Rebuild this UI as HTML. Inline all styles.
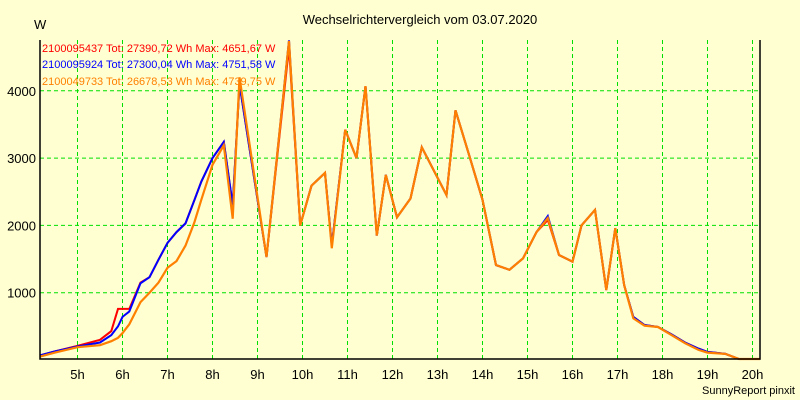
<!DOCTYPE html>
<html><head><meta charset="utf-8"><style>
body{margin:0;background:#ffffd2;}
svg{display:block;font-family:"Liberation Sans",sans-serif;}
</style></head><body>
<svg width="800" height="400">
<rect width="800" height="400" fill="#ffffd2"/>
<text x="420" y="24" font-size="13" text-anchor="middle">Wechselrichtervergleich vom 03.07.2020</text>
<text x="34" y="29" font-size="13">W</text>
<g id="grid"></g>
<g id="series"></g>
<path d="M40,40 V359 H760 V40" fill="none" stroke="#000" stroke-width="1.5"/>
<g font-size="11">
<text x="42" y="52" fill="#ff0000">2100095437 Tot: 27390,72 Wh Max: 4651,67 W</text>
<text x="42" y="68" fill="#0000ff">2100095924 Tot: 27300,04 Wh Max: 4751,58 W</text>
<text x="42" y="85" fill="#ff8000">2100049733 Tot: 26678,53 Wh Max: 4739,75 W</text>
</g>
<text x="795" y="394" font-size="11" text-anchor="end">SunnyReport pinxit</text>
</svg>
<script>
const xTicks=[5,6,7,8,9,10,11,12,13,14,15,16,17,18,19,20];
const yTicks=[1000,2000,3000,4000];
const times=[4.17,4.5,5,5.5,5.75,5.9,6,6.15,6.4,6.6,6.8,7,7.2,7.4,7.6,7.75,8,8.25,8.45,8.6,9.2,9.7,9.95,10.2,10.5,10.65,10.95,11.2,11.4,11.65,11.85,12.1,12.4,12.65,13.2,13.4,13.7,14,14.3,14.6,14.9,15.2,15.45,15.7,16,16.2,16.5,16.75,16.95,17.15,17.35,17.6,17.9,18.2,18.5,18.8,19,19.4,19.7,20.17];
const redVals=[70,130,210,300,430,760,760,760,1150,1230,1490,1740,1900,2030,2380,2650,3000,3240,2300,4100,1530,4650,2000,2590,2780,1700,3420,3000,4070,1850,2750,2120,2400,3160,2450,3710,3050,2380,1410,1340,1510,1900,2080,1560,1460,2000,2230,1040,1960,1110,640,520,490,380,260,170,120,90,15,15];
const blueVals=[70,130,200,260,370,500,640,720,1140,1230,1490,1740,1900,2030,2380,2650,3000,3240,2300,4100,1530,4750,2000,2590,2780,1700,3420,3000,4070,1850,2750,2120,2400,3160,2450,3710,3050,2380,1410,1340,1510,1900,2140,1560,1460,2000,2230,1040,1960,1110,640,520,490,380,260,170,120,90,15,15];
const orangeVals=[50,110,190,220,280,330,400,530,860,1000,1150,1370,1470,1700,2050,2380,2900,3190,2100,4200,1530,4740,2000,2590,2780,1660,3420,3000,4070,1850,2750,2120,2400,3160,2450,3710,3050,2380,1410,1340,1510,1900,2110,1560,1460,2000,2230,1040,1960,1110,620,510,490,370,250,150,110,90,15,15];
const NS="http://www.w3.org/2000/svg";
function xs(h){return 32.5+(h-4)*45;}
function ys(w){return 360-w*0.0673;}
const grid=document.getElementById('grid');
xTicks.forEach(h=>{
  const l=document.createElementNS(NS,'line');
  
  
  l.setAttribute('x1',xs(h));l.setAttribute('x2',xs(h));l.setAttribute('y1',40);l.setAttribute('y2',359);
  l.setAttribute('stroke','#00e000');l.setAttribute('stroke-dasharray','4,3');
  grid.appendChild(l);
  const t=document.createElementNS(NS,'text');
  
  
  t.setAttribute('x',xs(h));t.setAttribute('y',379);t.setAttribute('font-size','13');t.setAttribute('text-anchor','middle');
  t.textContent=h+'h';grid.appendChild(t);
});
yTicks.forEach(v=>{
  const l=document.createElementNS(NS,'line');
  
  
  l.setAttribute('x1',40);l.setAttribute('x2',760);l.setAttribute('y1',ys(v));l.setAttribute('y2',ys(v));
  l.setAttribute('stroke','#00e000');l.setAttribute('stroke-dasharray','4,3');
  grid.appendChild(l);
  const t=document.createElementNS(NS,'text');
  
  
  t.setAttribute('x',36);t.setAttribute('y',ys(v)+5);t.setAttribute('font-size','13');t.setAttribute('text-anchor','end');
  t.textContent=v;grid.appendChild(t);
});
const sg=document.getElementById('series');
[[redVals,'#ff0000',2,'series-red'],[blueVals,'#0000ff',2,'series-blue'],[orangeVals,'#ff8000',2.2,'series-orange']].forEach(s=>{
  const p=document.createElementNS(NS,'polyline');
  
  
  p.setAttribute('points',times.map((t,i)=>xs(t).toFixed(1)+','+ys(s[0][i]).toFixed(1)).join(' '));
  p.setAttribute('fill','none');p.setAttribute('stroke',s[1]);p.setAttribute('stroke-width',s[2]);
  sg.appendChild(p);
});
</script>
</body></html>
